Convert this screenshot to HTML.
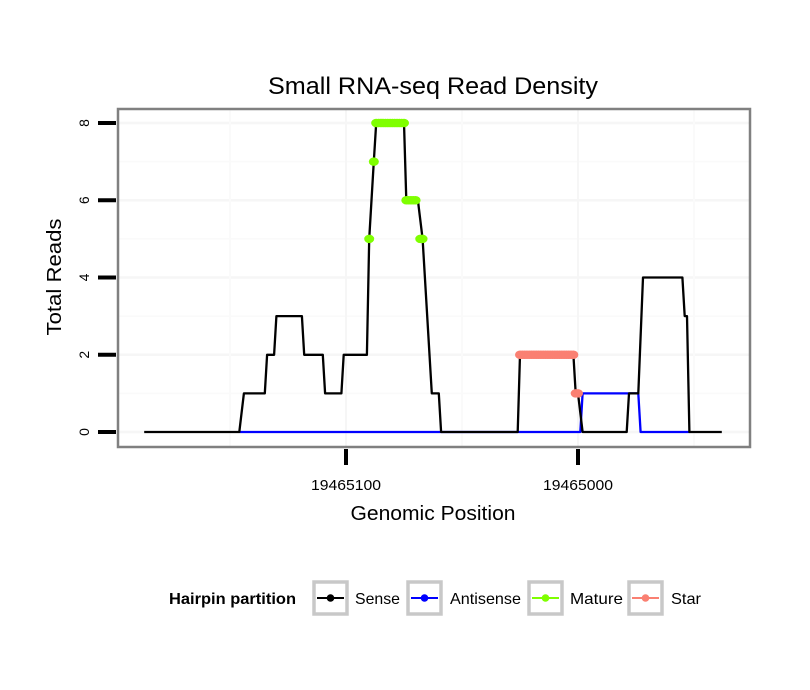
<!DOCTYPE html>
<html><head><meta charset="utf-8"><style>
html,body{margin:0;padding:0;background:#fff;}
svg{display:block;font-family:"Liberation Sans",Arial,sans-serif;}
</style></head><body>
<svg id="chart" width="810" height="690" viewBox="0 0 810 690">
<text x="433" y="94" font-size="24" text-anchor="middle" textLength="330" lengthAdjust="spacingAndGlyphs">Small RNA-seq Read Density</text>
<g id="grid"></g>
<g id="series"></g>
<rect x="118" y="109" width="632" height="338" fill="none" stroke="#808080" stroke-width="2.5"/>
<g id="axes"></g>
<text x="433" y="520" font-size="20" text-anchor="middle" textLength="165" lengthAdjust="spacingAndGlyphs">Genomic Position</text>
<text transform="translate(61,277) rotate(-90)" font-size="20" text-anchor="middle" textLength="117" lengthAdjust="spacingAndGlyphs">Total Reads</text>
<g>
<text x="169" y="604" font-size="16" font-weight="bold" textLength="127" lengthAdjust="spacingAndGlyphs">Hairpin partition</text>
<g><rect x="314" y="582" width="33" height="32" fill="none" stroke="#c8c8c8" stroke-width="3.5"/><line x1="317" y1="598" x2="344" y2="598" stroke="#000" stroke-width="2"/><circle cx="330.5" cy="598" r="3.8" fill="#000"/><text x="355" y="604" font-size="16" textLength="45" lengthAdjust="spacingAndGlyphs">Sense</text></g>
<g><rect x="408" y="582" width="33" height="32" fill="none" stroke="#c8c8c8" stroke-width="3.5"/><line x1="411" y1="598" x2="438" y2="598" stroke="#0000ff" stroke-width="2"/><circle cx="424.5" cy="598" r="3.8" fill="#0000ff"/><text x="450" y="604" font-size="16" textLength="71" lengthAdjust="spacingAndGlyphs">Antisense</text></g>
<g><rect x="529" y="582" width="33" height="32" fill="none" stroke="#c8c8c8" stroke-width="3.5"/><line x1="532" y1="598" x2="559" y2="598" stroke="#7fff00" stroke-width="2"/><circle cx="545.5" cy="598" r="3.8" fill="#7fff00"/><text x="570" y="604" font-size="16" textLength="53" lengthAdjust="spacingAndGlyphs">Mature</text></g>
<g><rect x="629" y="582" width="33" height="32" fill="none" stroke="#c8c8c8" stroke-width="3.5"/><line x1="632" y1="598" x2="659" y2="598" stroke="#fa8072" stroke-width="2"/><circle cx="645.5" cy="598" r="3.8" fill="#fa8072"/><text x="671" y="604" font-size="16" textLength="30" lengthAdjust="spacingAndGlyphs">Star</text></g>
</g>
</svg>
<script>
const senseX=[19465187,19465146,19465144,19465135,19465134,19465131,19465130,19465119,19465118,19465110,19465109,19465102,19465101,19465091,19465090,19465088,19465087,19465075,19465074,19465069,19465067,19465065,19465063,19465060,19465059,19465026,19465025,19465002,19465001,19465000,19464998,19464979,19464978,19464974,19464972,19464955,19464954,19464953,19464952,19464938];
const senseY=[0,0,1,1,2,2,3,3,2,2,1,1,2,2,5,7,8,8,6,6,5,3,1,1,0,0,2,2,1,1,0,0,1,1,4,4,3,3,0,0];
const antiX=[19465146,19464999,19464998,19464974,19464973,19464952];
const antiY=[0,0,1,1,0,0];
const matureX=[19465090,19465088,19465087,19465086,19465085,19465084,19465083,19465082,19465081,19465080,19465079,19465078,19465077,19465076,19465075,19465074,19465073,19465072,19465071,19465070,19465068,19465067];
const matureY=[5,7,8,8,8,8,8,8,8,8,8,8,8,8,8,6,6,6,6,6,5,5];
const starX=[19465025,19465024,19465023,19465022,19465021,19465020,19465019,19465018,19465017,19465016,19465015,19465014,19465013,19465012,19465011,19465010,19465009,19465008,19465007,19465006,19465005,19465004,19465003,19465002,19465001,19465000];
const starY=[2,2,2,2,2,2,2,2,2,2,2,2,2,2,2,2,2,2,2,2,2,2,2,2,1,1];
const xTicks=[19465100,19465000];
const yTicks=[0,2,4,6,8];
const NS='http://www.w3.org/2000/svg';
function xs(p){return 346+(19465100-p)*2.32;}
function ys(v){return 432-v*38.625;}
function mk(t,a,parent){const e=document.createElementNS(NS,t);for(const k in a)e.setAttribute(k,a[k]);parent.appendChild(e);return e;}
const grid=document.getElementById('grid'),ser=document.getElementById('series'),axes=document.getElementById('axes');
for(let v=0;v<=8;v++){const l=mk('line',{x1:119,x2:749,y1:ys(v),y2:ys(v),stroke:v%2?'#fafafa':'#f6f6f6','stroke-width':v%2?1.5:2.5},grid);

}
[19465150,19465100,19465050,19465000,19464950].forEach((p,i)=>{const l=mk('line',{x1:xs(p),x2:xs(p),y1:110,y2:446,stroke:i%2?'#f6f6f6':'#fafafa','stroke-width':2},grid);

});
function path(X,Y,col,name){const d=X.map((x,i)=>(i?'L':'M')+xs(x).toFixed(1)+','+ys(Y[i]).toFixed(1)).join('');
const p=mk('path',{d:d,fill:'none',stroke:col,'stroke-width':2.3,'stroke-linejoin':'round'},ser);

}
function dots(X,Y,col,name){X.forEach((x,i)=>{const c=mk('ellipse',{cx:xs(x),cy:ys(Y[i]),rx:5,ry:4.3,fill:col},ser);

});}
path(antiX,antiY,'#0000ff','antisense-line');
path(senseX,senseY,'#000','sense-line');
dots(matureX,matureY,'#7fff00','mature-point');
dots(starX,starY,'#fa8072','star-point');
yTicks.forEach(v=>{const l=mk('line',{x1:98,x2:116,y1:ys(v),y2:ys(v),stroke:'#000','stroke-width':4},axes);


const t=mk('text',{transform:'translate('+89+','+ys(v)+') rotate(-90)','font-size':14,'text-anchor':'middle'},axes);t.textContent=v;

});
xTicks.forEach(p=>{const l=mk('line',{x1:xs(p),x2:xs(p),y1:449,y2:465,stroke:'#000','stroke-width':4},axes);


const t=mk('text',{x:xs(p),y:490,'font-size':15,'text-anchor':'middle',textLength:70,lengthAdjust:'spacingAndGlyphs'},axes);t.textContent=p;

});
</script>
</body></html>
